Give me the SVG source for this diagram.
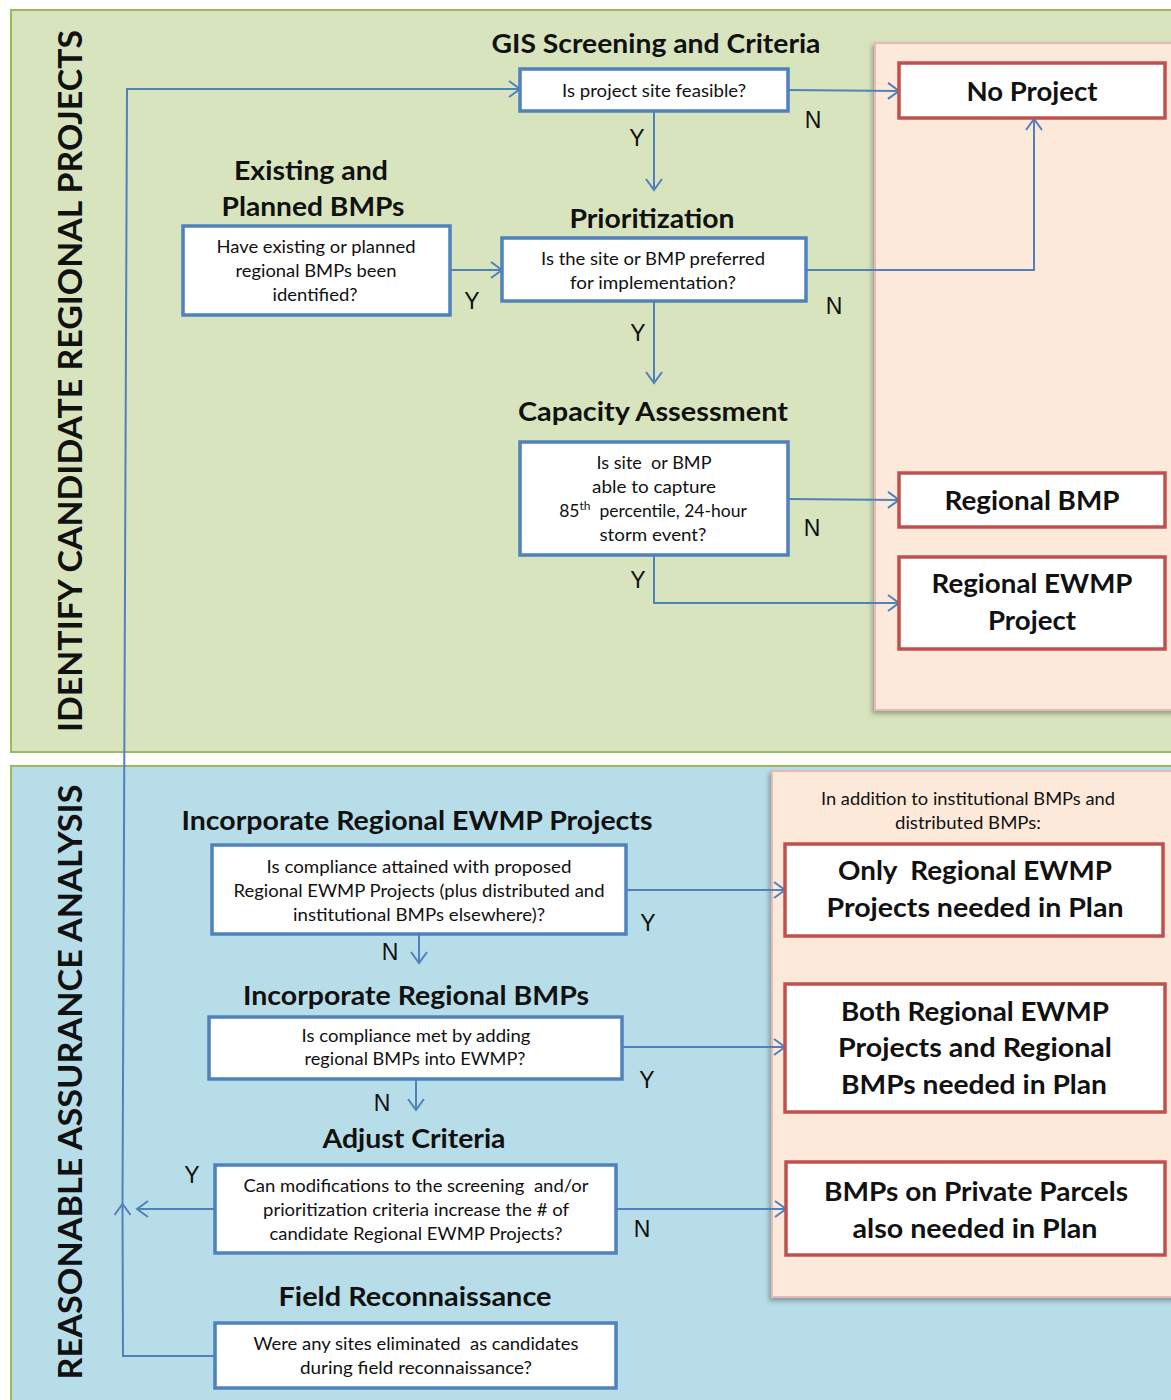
<svg xmlns="http://www.w3.org/2000/svg" width="1171" height="1400" viewBox="0 0 1171 1400">
<style>
.t{font-family:Lato,"Open Sans","Liberation Sans",sans-serif;fill:#111;text-anchor:middle}
.h{font-weight:bold;font-size:26px}
.s{font-size:16.5px}
.r{font-weight:bold;font-size:26px}
.yn{font-family:"Liberation Sans",sans-serif;font-size:23px;fill:#111;text-anchor:middle}
.box{fill:#fff;stroke:#4f81bd;stroke-width:3.5}
.red{fill:#fff;stroke:#c0504d;stroke-width:3.5}
.c{fill:none;stroke:#4f81bd;stroke-width:2}
.vl{font-family:Lato,"Open Sans","Liberation Sans",sans-serif;font-weight:bold;font-size:32px;fill:#111;text-anchor:middle}
</style>
<defs>
<marker id="a" markerUnits="userSpaceOnUse" markerWidth="14" markerHeight="18" refX="12" refY="9" orient="auto">
<path d="M1,1 L12,9 L1,17" fill="none" stroke="#4f81bd" stroke-width="2"/>
</marker>
<filter id="sh" x="-5%" y="-5%" width="115%" height="115%">
<feDropShadow dx="-2" dy="3" stdDeviation="2.5" flood-color="#000" flood-opacity="0.3"/>
</filter>
</defs>
<rect width="1171" height="1400" fill="#fff"/>
<g id="panels">
<rect x="11" y="10" width="1170" height="742" fill="#d7e4bd" stroke="#9bbb59" stroke-width="2"/>
<rect x="11" y="766" width="1170" height="640" fill="#b7dde8" stroke="#9bbb59" stroke-width="2"/>
<rect x="875" y="43" width="306" height="667" fill="#fde9d9" stroke="#e6b9b8" stroke-width="2" filter="url(#sh)"/>
<rect x="772" y="771" width="409" height="526" fill="#fde9d9" stroke="#e6b9b8" stroke-width="2" filter="url(#sh)"/>
<text class="vl" transform="translate(82,381) rotate(-90)" textLength="702" lengthAdjust="spacingAndGlyphs">IDENTIFY CANDIDATE REGIONAL PROJECTS</text>
<text class="vl" transform="translate(82,1082) rotate(-90)" textLength="595" lengthAdjust="spacingAndGlyphs">REASONABLE ASSURANCE ANALYSIS</text>
<text class="t s" x="968" y="805" textLength="294" lengthAdjust="spacingAndGlyphs">In addition to institutional BMPs and</text>
<text class="t s" x="968" y="829" textLength="146" lengthAdjust="spacingAndGlyphs">distributed BMPs:</text>
</g>
<g id="connectors">
<path class="c" d="M788,90 L899,91" marker-end="url(#a)"/>
<path class="c" d="M654,111 L654,190" marker-end="url(#a)"/>
<path class="c" d="M450,270 L502,270" marker-end="url(#a)"/>
<path class="c" d="M806,270 L1034,270 L1034,119" marker-end="url(#a)"/>
<path class="c" d="M654,301 L654,383" marker-end="url(#a)"/>
<path class="c" d="M788,499 L899,500" marker-end="url(#a)"/>
<path class="c" d="M654,555 L654,603 L899,603" marker-end="url(#a)"/>
<path class="c" d="M626,890 L785,890" marker-end="url(#a)"/>
<path class="c" d="M419,935 L419,963" marker-end="url(#a)"/>
<path class="c" d="M622,1047 L785,1047" marker-end="url(#a)"/>
<path class="c" d="M416,1080 L416,1110" marker-end="url(#a)"/>
<path class="c" d="M616,1209 L786,1209" marker-end="url(#a)"/>
<path class="c" d="M215,1209 L137,1209" marker-end="url(#a)"/>
<path class="c" d="M215,1356 L123,1356 L122.5,1204" marker-end="url(#a)"/>
<path class="c" d="M122.5,1204 L127,89 L520,89" marker-end="url(#a)"/>
<text class="yn" x="813" y="128">N</text>
<text class="yn" x="637" y="146">Y</text>
<text class="yn" x="472" y="309">Y</text>
<text class="yn" x="834" y="314">N</text>
<text class="yn" x="638" y="341">Y</text>
<text class="yn" x="812" y="536">N</text>
<text class="yn" x="638" y="588">Y</text>
<text class="yn" x="648" y="931">Y</text>
<text class="yn" x="390" y="960">N</text>
<text class="yn" x="647" y="1088">Y</text>
<text class="yn" x="382" y="1111">N</text>
<text class="yn" x="642" y="1237">N</text>
<text class="yn" x="192" y="1183">Y</text>
</g>
<g id="gis">
<text class="t h" x="656" y="53" textLength="329" lengthAdjust="spacingAndGlyphs">GIS Screening and Criteria</text>
<rect class="box" x="520" y="69" width="268" height="42"/>
<text class="t s" x="654" y="97" textLength="184" lengthAdjust="spacingAndGlyphs">Is project site feasible?</text>
</g>
<g id="existing">
<text class="t h" x="311" y="180" textLength="154" lengthAdjust="spacingAndGlyphs">Existing and</text>
<text class="t h" x="313" y="216" textLength="183" lengthAdjust="spacingAndGlyphs">Planned BMPs</text>
<rect class="box" x="183" y="226" width="267" height="89"/>
<text class="t s" x="316" y="253" textLength="199" lengthAdjust="spacingAndGlyphs">Have existing or planned</text>
<text class="t s" x="316" y="277" textLength="161" lengthAdjust="spacingAndGlyphs">regional BMPs been</text>
<text class="t s" x="315" y="301" textLength="85" lengthAdjust="spacingAndGlyphs">identified?</text>
</g>
<g id="prioritization">
<text class="t h" x="652" y="228" textLength="165" lengthAdjust="spacingAndGlyphs">Prioritization</text>
<rect class="box" x="502" y="238" width="304" height="63"/>
<text class="t s" x="653" y="265" textLength="224" lengthAdjust="spacingAndGlyphs">Is the site or BMP preferred</text>
<text class="t s" x="653" y="289" textLength="166" lengthAdjust="spacingAndGlyphs">for implementation?</text>
</g>
<g id="capacity">
<text class="t h" x="653" y="421" textLength="270" lengthAdjust="spacingAndGlyphs">Capacity Assessment</text>
<rect class="box" x="520" y="442" width="268" height="113"/>
<text class="t s" x="654" y="469" textLength="115" lengthAdjust="spacingAndGlyphs" xml:space="preserve">Is site  or BMP</text>
<text class="t s" x="654" y="493" textLength="124" lengthAdjust="spacingAndGlyphs">able to capture</text>
<text class="t" font-size="17.5" x="653" y="517" xml:space="preserve">85<tspan font-size="12" dy="-7">th</tspan><tspan dy="7">  percentile, 24-hour</tspan></text>
<text class="t s" x="653" y="541" textLength="107" lengthAdjust="spacingAndGlyphs">storm event?</text>
</g>
<g id="noproject">
<rect class="red" x="899" y="63" width="266" height="55"/>
<text class="t r" x="1032" y="101" textLength="131" lengthAdjust="spacingAndGlyphs">No Project</text>
</g>
<g id="regionalbmp">
<rect class="red" x="899" y="473" width="266" height="54"/>
<text class="t r" x="1032" y="510" textLength="175" lengthAdjust="spacingAndGlyphs">Regional BMP</text>
</g>
<g id="regionalewmp">
<rect class="red" x="899" y="557" width="266" height="92"/>
<text class="t r" x="1032" y="593" textLength="201" lengthAdjust="spacingAndGlyphs">Regional EWMP</text>
<text class="t r" x="1032" y="630" textLength="88" lengthAdjust="spacingAndGlyphs">Project</text>
</g>
<g id="incewmp">
<text class="t h" x="417" y="830" textLength="471" lengthAdjust="spacingAndGlyphs">Incorporate Regional EWMP Projects</text>
<rect class="box" x="212" y="845" width="414" height="89"/>
<text class="t s" x="419" y="873" textLength="305" lengthAdjust="spacingAndGlyphs">Is compliance attained with proposed</text>
<text class="t s" x="419" y="897" textLength="371" lengthAdjust="spacingAndGlyphs">Regional EWMP Projects (plus distributed and</text>
<text class="t s" x="419" y="921" textLength="252" lengthAdjust="spacingAndGlyphs">institutional BMPs elsewhere)?</text>
</g>
<g id="incbmp">
<text class="t h" x="416" y="1005" textLength="346" lengthAdjust="spacingAndGlyphs">Incorporate Regional BMPs</text>
<rect class="box" x="209" y="1017" width="413" height="62"/>
<text class="t s" x="416" y="1042" textLength="229" lengthAdjust="spacingAndGlyphs">Is compliance met by adding</text>
<text class="t s" x="415" y="1065" textLength="221" lengthAdjust="spacingAndGlyphs">regional BMPs into EWMP?</text>
</g>
<g id="adjust">
<text class="t h" x="414" y="1148" textLength="183" lengthAdjust="spacingAndGlyphs">Adjust Criteria</text>
<rect class="box" x="215" y="1165" width="401" height="88"/>
<text class="t s" x="416" y="1192" textLength="345" lengthAdjust="spacingAndGlyphs" xml:space="preserve">Can modifications to the screening  and/or</text>
<text class="t s" x="416" y="1216" textLength="306" lengthAdjust="spacingAndGlyphs">prioritization criteria increase the # of</text>
<text class="t s" x="416" y="1240" textLength="293" lengthAdjust="spacingAndGlyphs">candidate Regional EWMP Projects?</text>
</g>
<g id="field">
<text class="t h" x="415" y="1306" textLength="273" lengthAdjust="spacingAndGlyphs">Field Reconnaissance</text>
<rect class="box" x="215" y="1323" width="401" height="65"/>
<text class="t s" x="416" y="1350" textLength="325" lengthAdjust="spacingAndGlyphs" xml:space="preserve">Were any sites eliminated  as candidates</text>
<text class="t s" x="416" y="1374" textLength="232" lengthAdjust="spacingAndGlyphs">during field reconnaissance?</text>
</g>
<g id="onlyewmp">
<rect class="red" x="785" y="844" width="378" height="92"/>
<text class="t r" x="975" y="880" textLength="274" lengthAdjust="spacingAndGlyphs" xml:space="preserve">Only  Regional EWMP</text>
<text class="t r" x="975" y="917" textLength="297" lengthAdjust="spacingAndGlyphs">Projects needed in Plan</text>
</g>
<g id="both">
<rect class="red" x="785" y="984" width="380" height="128"/>
<text class="t r" x="975" y="1021" textLength="268" lengthAdjust="spacingAndGlyphs">Both Regional EWMP</text>
<text class="t r" x="975" y="1057" textLength="274" lengthAdjust="spacingAndGlyphs">Projects and Regional</text>
<text class="t r" x="974" y="1094" textLength="266" lengthAdjust="spacingAndGlyphs">BMPs needed in Plan</text>
</g>
<g id="private">
<rect class="red" x="786" y="1162" width="379" height="93"/>
<text class="t r" x="976" y="1201" textLength="304" lengthAdjust="spacingAndGlyphs">BMPs on Private Parcels</text>
<text class="t r" x="975" y="1238" textLength="245" lengthAdjust="spacingAndGlyphs">also needed in Plan</text>
</g>
</svg>
